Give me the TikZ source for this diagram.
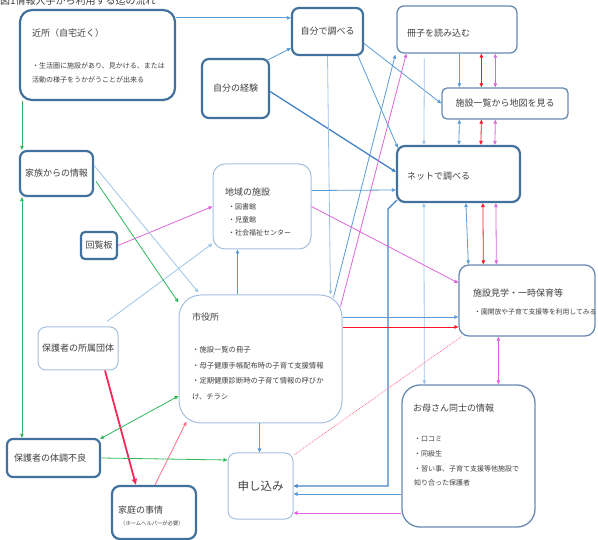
\documentclass[tikz,border=0pt]{standalone}
\usepackage{fontspec}
\setmainfont{Noto Sans CJK JP}
\usetikzlibrary{arrows.meta, calc}
\definecolor{boxdark}{RGB}{65,113,156}
\definecolor{boxmid}{RGB}{104,138,178}
\definecolor{boxlight}{RGB}{165,192,222}
\definecolor{txtgray}{RGB}{64,64,64}
\definecolor{lineblue}{RGB}{91,155,213}
\definecolor{paleblue}{RGB}{157,195,230}
\definecolor{deepblue}{RGB}{68,130,200}
\definecolor{leafgreen}{RGB}{46,184,90}
\definecolor{orchid}{RGB}{222,100,222}
\definecolor{brightred}{RGB}{255,20,40}
\definecolor{crimson}{RGB}{250,40,90}
\definecolor{rosered}{RGB}{255,110,140}
\newcommand\boxfont{\fontsize{9}{11}\selectfont}

\begin{document}
\begin{tikzpicture}[x=1pt, y=-1pt,
    bigbox/.style={draw=boxdark, line width=2.2pt, rounded corners=#1, fill=white,
                   inner sep=0pt, text=txtgray, font=\boxfont},
    bigbox/.default=7pt,
    midbox/.style={draw=boxmid, line width=1.3pt, rounded corners=#1, fill=white,
                   inner sep=0pt, text=txtgray, font=\boxfont},
    midbox/.default=7pt,
    thinbox/.style={draw=boxlight, line width=1pt, rounded corners=#1, fill=white,
                    inner sep=0pt, text=txtgray, font=\boxfont},
    thinbox/.default=8pt,
    boxtitle/.style={anchor=west, inner sep=0pt, text=txtgray, font=\boxfont},
    note/.style={anchor=north west, align=left, inner sep=0pt, text=txtgray},
    link/.style={color=#1, line width=0.8pt},
    onehead/.style={-{Triangle[length=4pt, width=3.5pt]}},
    twohead/.style={{Triangle[length=4pt, width=3.5pt]}-{Triangle[length=4pt, width=3.5pt]}}
]
    \useasboundingbox (0,0) rectangle (598,540);
    \node[anchor=base west, inner sep=0pt, text=txtgray, font=\fontsize{10}{12}\selectfont] (fig) at (0,4.5) {図1情報入手から利用する迄の流れ};

    % boxes
    \node[bigbox=12pt, minimum width=155pt, minimum height=90pt] (kinjo) at (97.5,55) {};
    \node[boxtitle] (kinjoT) at (32,33) {近所（自宅近く）};
    \node[note, font=\fontsize{7}{14}\selectfont] (kinjoN) at (32,62.3)
        {・生活圏に施設があり、見かける、または\\活動の様子をうかがうことが出来る};
    \node[bigbox, minimum width=71pt, minimum height=47pt] (shirabe) at (327.5,31.5) {自分で調べる};
    \node[bigbox, minimum width=67pt, minimum height=59pt] (keiken) at (235.5,88.5) {自分の経験};
    \node[midbox, minimum width=120pt, minimum height=47pt] (sasshi) at (457,29.5) {};
    \node[boxtitle] (sasshiT) at (407,33) {冊子を読み込む};
    \node[midbox=5pt, minimum width=126pt, minimum height=31pt] (chizu) at (505,103.5) {施設一覧から地図を見る};
    \node[bigbox=8pt, minimum width=123pt, minimum height=56pt] (net) at (458.5,174) {};
    \node[boxtitle] (netT) at (407,176) {ネットで調べる};
    \node[midbox=10pt, minimum width=136pt, minimum height=71pt] (kengaku) at (527,300.5) {};
    \node[boxtitle] (kengakuT) at (473,293) {施設見学・一時保育等};
    \node[boxtitle, font=\fontsize{6.8}{8}\selectfont] (kengakuN) at (474,312) {・園開放や子育て支援等を利用してみる};
    \node[bigbox, minimum width=73pt, minimum height=45pt] (kazoku) at (56.5,173.5) {家族からの情報};
    \node[bigbox=4pt, minimum width=36pt, minimum height=27pt] (kairan) at (99,245.5) {回覧板};
    \node[thinbox=12pt, minimum width=98pt, minimum height=85pt] (chiiki) at (262,206.5) {};
    \node[boxtitle] (chiikiT) at (225,192) {地域の施設};
    \node[note, font=\fontsize{7}{13}\selectfont] (chiikiN) at (228,203.3)
        {・図書館\\・児童館\\・社会福祉センター};
    \node[thinbox=22pt, minimum width=163pt, minimum height=128pt] (shiyakusho) at (260.5,359) {};
    \node[boxtitle] (shiyakushoT) at (192,317) {市役所};
    \node[note, font=\fontsize{7.3}{15.6}\selectfont] (shiyakushoN) at (192,346.2)
        {・施設一覧の冊子\\・母子健康手帳配布時の子育て支援情報\\・定期健康診断時の子育て情報の呼びか\\け、チラシ};
    \node[thinbox, minimum width=80pt, minimum height=43pt] (dantai) at (78,348.5) {保護者の所属団体};
    \node[midbox=18pt, minimum width=133pt, minimum height=142pt] (mama) at (468.5,456) {};
    \node[boxtitle] (mamaT) at (413,408) {お母さん同士の情報};
    \node[note, font=\fontsize{7}{14.7}\selectfont] (mamaN) at (414,436.3)
        {・口コミ\\・同級生\\・習い事、子育て支援等他施設で\\知り合った保護者};
    \node[bigbox=6pt, minimum width=93pt, minimum height=38pt] (taichou) at (53.5,458) {};
    \node[boxtitle] (taichouT) at (14,458) {保護者の体調不良};
    \node[bigbox=8pt, minimum width=84pt, minimum height=53pt] (katei) at (154,512.5) {};
    \node[boxtitle] (kateiT) at (118,510) {家庭の事情};
    \node[boxtitle, font=\fontsize{5.3}{6}\selectfont] (kateiN) at (120,523) {（ホームヘルパーが必要）};
    \node[thinbox, minimum width=65pt, minimum height=66pt, font=\fontsize{11.5}{13}\selectfont] (moushikomi) at (260.5,486) {申し込み};

    % connectors
    \draw[link=lineblue, onehead] ($(kinjo.north east)+(0,9)$) -- ($(shirabe.north west)+(0,11)$);
    \draw[link=leafgreen, onehead] ($(kinjo.south west)+(3,0)$) -- ($(kazoku.north west)+(3,0)$);
    \draw[link=leafgreen, twohead] ($(kazoku.south west)+(3,0)$) -- ($(taichou.north west)+(16,0)$);
    \draw[link=lineblue, onehead] ($(keiken.north east)+(-4,3)$) -- ($(shirabe.south west)+(0,-8)$);
    \draw[link=deepblue, line width=1.3pt, onehead] ($(keiken.east)+(0,3)$) -- ($(net.west)+(0,-2)$);
    \draw[link=lineblue, onehead] ($(shirabe.south east)+(-6,0)$) -- ($(net.north west)+(2,3)$);
    \draw[link=lineblue, onehead] ($(shirabe.east)+(0,12)$) -- (chizu.west);
    \draw[link=paleblue, onehead] ($(sasshi.south west)+(28,5)$) -- ($(net.north west)+(28,0)$);
    \draw[link=lineblue, onehead] ($(sasshi.south west)+(63,0)$) -- ($(chizu.north west)+(18,0)$);
    \draw[link=brightred, twohead] ($(sasshi.south west)+(85,0)$) -- ($(chizu.north west)+(40,0)$);
    \draw[link=orchid, twohead] ($(sasshi.south west)+(99,0)$) -- ($(chizu.north west)+(54,0)$);
    \draw[link=lineblue, twohead] ($(chizu.south west)+(18,0)$) -- ($(net.north west)+(63,0)$);
    \draw[link=brightred, twohead] ($(chizu.south west)+(40,0)$) -- ($(net.north west)+(85,0)$);
    \draw[link=orchid, twohead] ($(chizu.south west)+(54,0)$) -- ($(net.north west)+(99,0)$);
    \draw[link=lineblue, twohead] ($(net.south west)+(70,0)$) -- ($(kengaku.north west)+(10,0)$);
    \draw[link=brightred, twohead] ($(net.south west)+(87,0)$) -- ($(kengaku.north west)+(25,0)$);
    \draw[link=orchid, twohead] ($(net.south west)+(100,0)$) -- ($(kengaku.north west)+(38,0)$);
    \draw[link=paleblue, twohead] ($(net.south west)+(28,0)$) -- ($(mama.north west)+(23,0)$);
    \draw[link=orchid, twohead] ($(kengaku.south west)+(40,0)$) -- ($(mama.north west)+(97,0)$);
    \coordinate (netbend) at (388,209);
    \draw[link=deepblue, line width=1.3pt, onehead] ($(net.south west)+(1,-3)$) -- (netbend)
        -- (netbend |- moushikomi.east) -- (moushikomi.east);
    \draw[link=lineblue, onehead] ($(mama.west)+(0,38)$) -- ($(moushikomi.east)+(0,8)$);
    \draw[link=orchid, onehead] ($(mama.west)+(0,57)$) -- ($(moushikomi.east)+(0,27)$);
    \draw[rosered, line width=0.8pt, densely dotted] ($(moushikomi.north east)+(1,2)$) -- ($(kengaku.south west)+(3,0)$);
    \draw[link=lineblue, onehead] ($(shiyakusho.south)+(-1,0)$) -- ($(moushikomi.north)+(-1,0)$);
    \draw[link=lineblue, onehead] ($(shiyakusho.north west)+(59,0)$) -- ($(chiiki.south west)+(25,0)$);
    \draw[link=paleblue, onehead] (shirabe.south) -- ($(shiyakusho.north east)+(-12,0)$);
    \draw[link=lineblue, onehead] ($(shiyakusho.north east)+(-9,3)$) -- ($(sasshi.south west)+(-1,1)$);
    \draw[link=orchid, onehead] ($(shiyakusho.north east)+(-2,12)$) -- ($(sasshi.south west)+(10,0)$);
    \draw[link=lineblue, onehead] ($(shiyakusho.east)+(0,-42)$) -- ($(kengaku.west)+(0,16.5)$);
    \draw[link=brightred, onehead] ($(shiyakusho.east)+(0,-32)$) -- ($(kengaku.west)+(0,26.5)$);
    \draw[link=lineblue, onehead] ($(chiiki.east)+(0,-16)$) -- ($(net.west)+(0,16)$);
    \draw[link=orchid, onehead] (chiiki.east) -- ($(kengaku.west)+(0,-17.5)$);
    \draw[link=orchid, onehead] (kairan.east) -- (chiiki.west);
    \draw[link=paleblue, onehead] ($(dantai.north)+(29,-5)$) -- ($(chiiki.south west)+(0,-6)$);
    \draw[link=paleblue, onehead] ($(kazoku.east)+(0,-8)$) -- ($(shiyakusho.north west)+(20,-2)$);
    \draw[link=leafgreen, onehead] ($(kazoku.east)+(2,8)$) -- ($(shiyakusho.north west)+(0,8)$);
    \draw[link=crimson, line width=1.8pt, -{Triangle[length=6pt, width=5pt]}] ($(dantai.south)+(27,0)$) -- ($(katei.north west)+(25,0)$);
    \draw[link=rosered, onehead] ($(katei.north)+(1,0)$) -- ($(shiyakusho.south west)+(8,-2)$);
    \draw[link=leafgreen, onehead] (taichou.east) -- ($(moushikomi.west)+(0,-26)$);
    \draw[link=leafgreen, twohead] ($(shiyakusho.west)+(0,37)$) -- ($(taichou.north east)+(-1,1)$);
\end{tikzpicture}
\end{document}
